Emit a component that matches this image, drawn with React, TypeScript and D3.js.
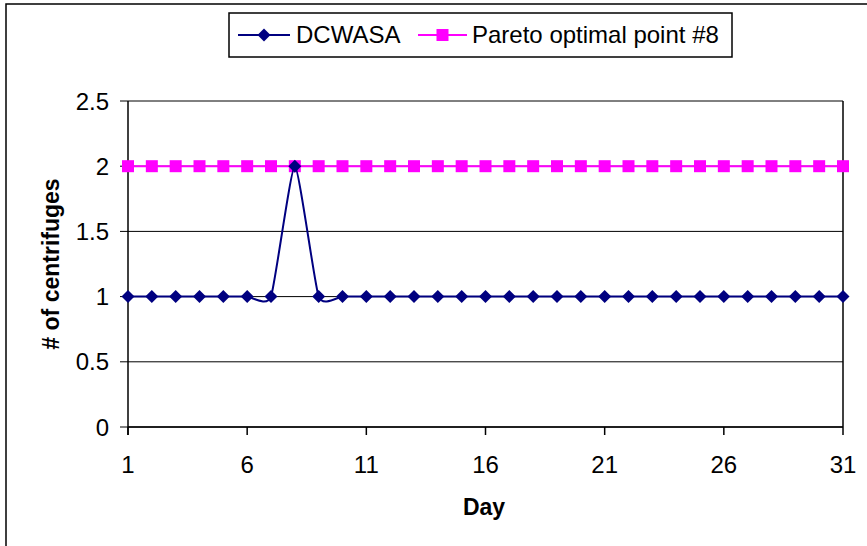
import React from 'react';
import * as d3 from 'd3';

const days = d3.range(1, 32);
const dcwasa = [1, 1, 1, 1, 1, 1, 1, 2, 1, 1, 1, 1, 1, 1, 1, 1, 1, 1, 1, 1, 1, 1, 1, 1, 1, 1, 1, 1, 1, 1, 1];
const pareto = [2, 2, 2, 2, 2, 2, 2, 2, 2, 2, 2, 2, 2, 2, 2, 2, 2, 2, 2, 2, 2, 2, 2, 2, 2, 2, 2, 2, 2, 2, 2];
const xTicks = [1, 6, 11, 16, 21, 26, 31];
const yTicks = [0, 0.5, 1, 1.5, 2, 2.5];

const W = 867;
const H = 546;
const margin = { top: 101, right: 24, bottom: 119, left: 128 };
const font = '"Liberation Sans", Arial, sans-serif';

export default function App() {
  const x = d3.scaleLinear().domain([1, 31]).range([margin.left, W - margin.right]);
  const y = d3.scaleLinear().domain([0, 2.5]).range([H - margin.bottom, margin.top]);

  const line = d3
    .line<number>()
    .x((_, i) => x(days[i]))
    .y(d => y(d))
    .curve(d3.curveCardinal.tension(0.5));

  const diamond = (cx: number, cy: number, r: number) =>
    `M${cx},${cy - r}L${cx + r},${cy}L${cx},${cy + r}L${cx - r},${cy}Z`;

  const x0 = x(1);
  const x1 = x(31);
  const y0 = y(0);

  return (
    <svg width={W} height={H} style={{ position: 'absolute', left: 0, top: 0 }} fontFamily={font}>
      <rect x={0} y={0} width={W} height={H} fill="#fff" />
      {/* outer chart frame */}
      <rect x={6} y={4} width={W + 10} height={H + 10} fill="none" stroke="#000" strokeWidth={1.5} />

      {/* gridlines */}
      {yTicks.map(t => (
        <line key={t} x1={x0 - 8} x2={x1} y1={y(t)} y2={y(t)} stroke="#000" strokeWidth={1} />
      ))}
      {/* axes */}
      <line x1={x0} x2={x0} y1={y(2.5)} y2={y0 + 8} stroke="#000" strokeWidth={1.5} />
      <line x1={x1} x2={x1} y1={y(2.5)} y2={y0} stroke="#000" strokeWidth={1.5} />
      <line x1={x0} x2={x1} y1={y0} y2={y0} stroke="#000" strokeWidth={1.5} />
      {xTicks.map(t => (
        <line key={t} x1={x(t)} x2={x(t)} y1={y0} y2={y0 + 8} stroke="#000" strokeWidth={1.5} />
      ))}

      {/* tick labels */}
      {yTicks.map(t => (
        <text key={t} x={x0 - 19} y={y(t)} dy="0.36em" textAnchor="end" fontSize={24} fill="#000">
          {t}
        </text>
      ))}
      {xTicks.map(t => (
        <text key={t} x={x(t)} y={473} textAnchor="middle" fontSize={24} fill="#000">
          {t}
        </text>
      ))}

      {/* axis titles */}
      <text x={484} y={515} textAnchor="middle" fontSize={23} fontWeight="bold">Day</text>
      <text
        transform={`translate(59,${(y(2.5) + y0) / 2}) rotate(-90)`}
        textAnchor="middle"
        fontSize={23}
        fontWeight="bold"
      >
        # of centrifuges
      </text>

      {/* series */}
      <path d={line(pareto) ?? ''} fill="none" stroke="#ff00ff" strokeWidth={2} />
      {pareto.map((v, i) => (
        <rect key={i} x={x(days[i]) - 6} y={y(v) - 6} width={12} height={12} fill="#ff00ff" />
      ))}
      <path d={line(dcwasa) ?? ''} fill="none" stroke="#000080" strokeWidth={2} />
      {dcwasa.map((v, i) => (
        <path key={i} d={diamond(x(days[i]), y(v), 6.5)} fill="#000080" />
      ))}

      {/* legend */}
      <rect x={229} y={13} width={503} height={44} fill="#fff" stroke="#000" strokeWidth={1.5} />
      <line x1={238} x2={290} y1={35} y2={35} stroke="#000080" strokeWidth={2} />
      <path d={diamond(264, 35, 6.5)} fill="#000080" />
      <text x={296} y={43} fontSize={24}>DCWASA</text>
      <line x1={418} x2={467} y1={35} y2={35} stroke="#ff00ff" strokeWidth={2} />
      <rect x={436.5} y={29} width={12} height={12} fill="#ff00ff" />
      <text x={472} y={43} fontSize={24}>Pareto optimal point #8</text>
    </svg>
  );
}
